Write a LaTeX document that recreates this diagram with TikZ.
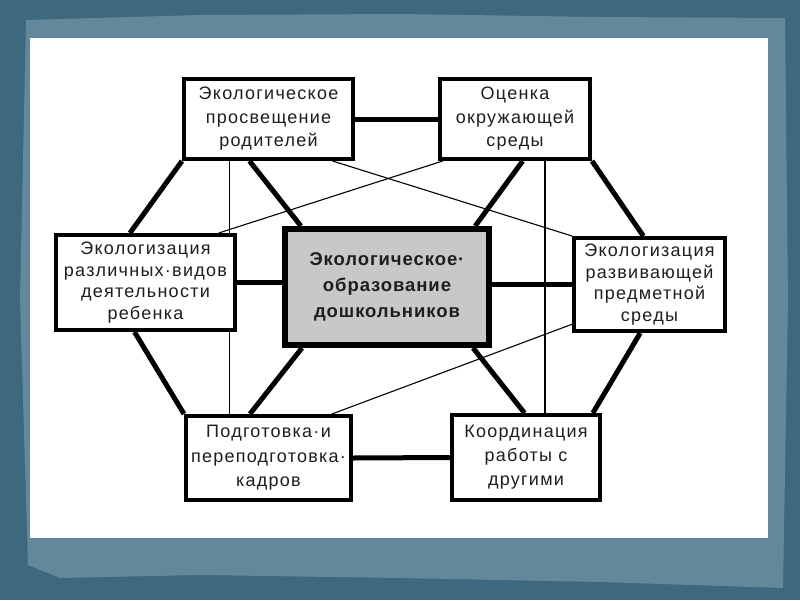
\documentclass[tikz,border=0pt]{standalone}
\usepackage{fontspec}
\setmainfont{Liberation Sans}
\newfontfamily\boxfont{Liberation Sans}[LetterSpace=7]
\newfontfamily\ctrfont{Liberation Sans}[LetterSpace=5]
\usetikzlibrary{calc}
\pgfdeclarelayer{back}
\pgfdeclarelayer{links}
\pgfsetlayers{back,links,main}
\definecolor{bgdark}{HTML}{3D687D}
\definecolor{paper}{HTML}{628899}
\definecolor{ctrgray}{HTML}{C8C8C8}
\definecolor{ink}{HTML}{1E1E1E}
\tikzset{
 box/.style={draw=black, line width=4pt, fill=white, align=center, inner sep=1pt,
   font=\boxfont\fontsize{18}{23.5}\selectfont, text=ink},
 ctrbox/.style={draw=black, line width=6pt, fill=ctrgray, align=center, inner sep=1pt,
   font=\ctrfont\bfseries\fontsize{18.5}{26}\selectfont, text=ink},
 strong/.style={line width=5pt},
 fine/.style={line width=1.1pt},
}
\begin{document}
\begin{tikzpicture}[x=1pt,y=-1pt]
\useasboundingbox (0,0) rectangle (800,600);
\begin{pgfonlayer}{back}
\fill[bgdark] (0,0) rectangle (800,600);
\fill[paper] (26,20) -- (200,15) -- (400,14) -- (600,17) -- (785,18) -- (788,300) -- (783,588) -- (600,582) -- (400,578) -- (200,575) -- (60,578) -- (28,565) -- (20,300) -- cycle;
\fill[white] (30,38) rectangle (768,538);
\end{pgfonlayer}

\node[box, minimum width=169pt, minimum height=80pt] (TL) at (268.5,119) {Экологическое\\просвещение\\родителей};
\node[box, minimum width=150pt, minimum height=80pt] (TR) at (515,119) {Оценка\\окружающей\\среды};
\node[box, minimum width=179pt, minimum height=95pt, font=\boxfont\fontsize{18}{21.5}\selectfont] (L) at (145.5,282.5) {Экологизация\\различных·видов\\деятельности\\ребенка};
\node[ctrbox, minimum width=204pt, minimum height=116pt] (C) at (387,287) {Экологическое·\\образование\\дошкольников};
\node[box, minimum width=151pt, minimum height=93pt, font=\boxfont\fontsize{18}{21.5}\selectfont] (R) at (649.5,284.5) {Экологизация\\развивающей\\предметной\\среды};
\node[box, minimum width=165pt, minimum height=84pt, font=\boxfont\fontsize{18}{24.5}\selectfont] (BL) at (268.5,458) {Подготовка·и\\переподготовка·\\кадров};
\node[box, minimum width=148pt, minimum height=85pt, font=\boxfont\fontsize{18}{24}\selectfont] (BR) at (526,457.5) {Координация\\работы с\\другими};

\begin{pgfonlayer}{links}
\draw[strong] (TL.east) -- (TR.west);
\draw[strong] (TL.south west) -- ($(L.north west)!0.415!(L.north east)$);
\draw[strong] ($(TL.south west)!0.39!(TL.south east)$) -- ($(C.north west)!0.09!(C.north east)$);
\draw[strong] ($(TR.south west)!0.55!(TR.south east)$) -- ($(C.north west)!0.92!(C.north east)$);
\draw[strong] (TR.south east) -- ($(R.north west)!0.46!(R.north east)$);
\draw[strong] (L.east) -- (L.east -| C.west);
\draw[strong] (R.west) -- (R.west -| C.east);
\draw[strong] ($(L.south west)!0.44!(L.south east)$) -- (BL.north west);
\draw[strong] ($(C.south west)!0.095!(C.south east)$) -- ($(BL.north west)!0.39!(BL.north east)$);
\draw[strong] ($(C.south west)!0.91!(C.south east)$) -- ($(BR.north west)!0.49!(BR.north east)$);
\draw[strong] ($(R.south west)!0.44!(R.south east)$) -- ($(BR.north west)!0.94!(BR.north east)$);
\draw[strong] (BL.east) -- (BR.west);
\coordinate (va) at ($(TL.south west)!0.277!(TL.south east)$);
\draw[fine] (va) -- (va |- BL.north);
\coordinate (vb) at ($(TR.south west)!0.695!(TR.south east)$);
\draw[fine] (vb) -- (vb |- BR.north);
\draw[fine] ($(TL.south west)!0.87!(TL.south east)$) -- (R.north west);
\draw[fine] ($(TR.south west)!0.03!(TR.south east)$) -- ($(L.north west)!0.9!(L.north east)$);
\draw[fine] ($(R.north west)!0.91!(R.south west)$) -- ($(BL.north west)!0.875!(BL.north east)$);
\end{pgfonlayer}
\end{tikzpicture}
\end{document}
